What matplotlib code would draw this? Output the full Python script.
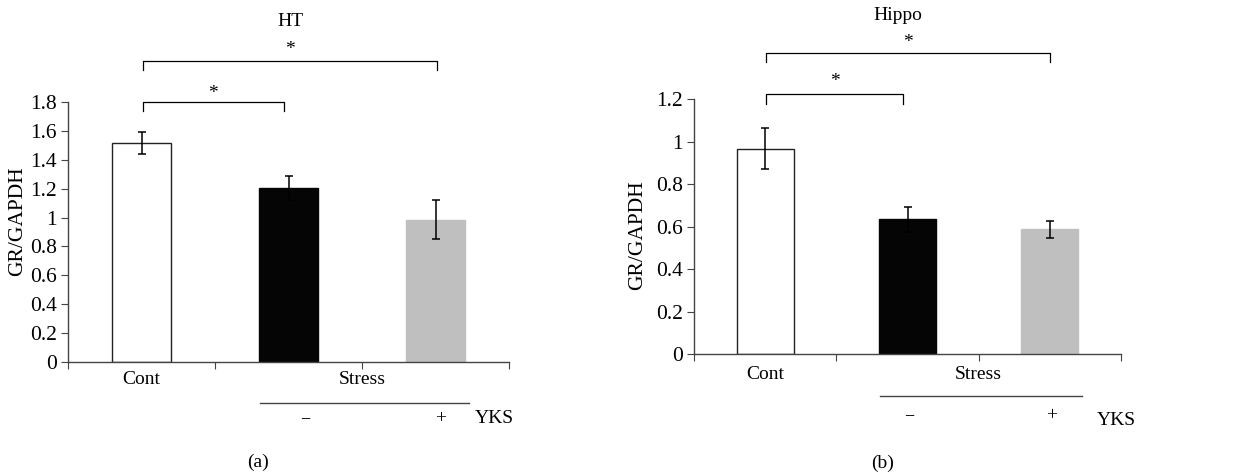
import numpy as np
import matplotlib.pyplot as plt
from matplotlib.ticker import FuncFormatter

plt.rcParams['font.family'] = ['Liberation Serif', 'DejaVu Serif']

# datos
grupos = ["Cont", "Stress -YKS", "Stress +YKS"]
ht_media = [1.515, 1.205, 0.985]
ht_error = [0.077, 0.083, 0.135]
hippo_media = [0.968, 0.635, 0.588]
hippo_error = [0.097, 0.060, 0.040]
colores = ["white", "#050505", "#bfbfbf"]
bordes = ["#222222", "#050505", "#bfbfbf"]

fig = plt.figure(figsize=(12.5, 4.75), dpi=100)
ax1 = fig.add_axes([0.0544, 0.2379, 0.3528, 0.5474])
ax2 = fig.add_axes([0.5552, 0.2541, 0.3416, 0.5368])

fs = 14
gris = "#444444"


def corchete(ax, x0, x1, y, pata, y_star):
    ax.plot([x0, x0, x1, x1], [pata, y, y, pata], color="black", lw=0.9, clip_on=False)
    ax.text((x0 + x1) / 2, y_star, "*", ha="center", va="center", fontsize=fs)


def panel(ax, medias, errores, ymax, titulo, letra, ytit, cfg):
    x = np.arange(len(grupos))
    ax.bar(x, medias, width=0.4, color=colores, edgecolor=bordes, linewidth=1.0)
    ax.errorbar(x, medias, yerr=errores, fmt="none", ecolor="black", elinewidth=1.1,
                capsize=3, capthick=1.1)
    ax.set_xlim(-0.5, 2.5)
    ax.set_ylim(0, ymax)
    ax.set_yticks(np.arange(0, ymax + 0.01, 0.2))
    ax.yaxis.set_major_formatter(FuncFormatter(lambda v, p: "%g" % round(v, 1)))
    ax.set_xticks([-0.5, 0.5, 1.5, 2.5])
    ax.set_xticklabels([])
    for s in ["top", "right"]:
        ax.spines[s].set_visible(False)
    for s in ["left", "bottom"]:
        ax.spines[s].set_color(gris)
        ax.spines[s].set_linewidth(1.0)
    ax.tick_params(axis="both", direction="out", length=5, color=gris, labelsize=fs + 1.5)
    ax.tick_params(axis="y", pad=3)

    tr = ax.get_xaxis_transform()
    ax.text(0, cfg["y_cont"], "Cont", transform=tr, ha="center", va="center", fontsize=fs)
    ax.text(1.5, cfg["y_cont"], "Stress", transform=tr, ha="center", va="center", fontsize=fs)
    ax.plot(cfg["linea"], [cfg["y_linea"]] * 2, transform=tr, color=gris, lw=1.0, clip_on=False)
    ax.text(cfg["x_menos"], cfg["y_signo"], "\u2212", transform=tr, ha="center", va="center", fontsize=fs - 1)
    ax.text(cfg["x_mas"], cfg["y_signo"], "+", transform=tr, ha="center", va="center", fontsize=fs)
    ax.text(cfg["x_yks"], cfg["y_yks"], "YKS", transform=tr, ha="center", va="center", fontsize=fs)
    ax.text(cfg["x_letra"], cfg["y_letra"], letra, transform=tr, ha="center", va="center", fontsize=fs)
    ax.text(cfg["x_tit"], ytit, titulo, transform=tr, ha="center", va="center", fontsize=fs)
    for b in cfg["corchetes"]:
        corchete(ax, *b)


panel(ax1, ht_media, ht_error, 1.8, "HT", "(a)", 1.308,
      dict(y_cont=-0.069, linea=[0.806, 2.228], y_linea=-0.157, x_menos=1.112, x_mas=2.035,
           y_signo=-0.219, x_yks=2.40, y_yks=-0.219, x_letra=0.79, y_letra=-0.385, x_tit=1.01,
           corchetes=[(0.008, 0.969, 1.8, 1.738, 1.856), (0.008, 2.008, 2.087, 2.022, 2.16)]))
panel(ax2, hippo_media, hippo_error, 1.2, "Hippo", "(b)", 1.328,
      dict(y_cont=-0.081, linea=[0.807, 2.224], y_linea=-0.164, x_menos=1.011, x_mas=2.014,
           y_signo=-0.242, x_yks=2.47, y_yks=-0.261, x_letra=0.828, y_letra=-0.426, x_tit=0.934,
           corchetes=[(0.004, 0.971, 1.224, 1.18, 1.283), (0.004, 2.002, 1.42, 1.374, 1.468)]))

fig.text(18 / 1250, 1 - 221 / 475, "GR/GAPDH", rotation=90, ha="center", va="center", fontsize=fs + 1.5)
fig.text(638 / 1250, 1 - 235 / 475, "GR/GAPDH", rotation=90, ha="center", va="center", fontsize=fs + 1.5)

fig.savefig("out.png", dpi=100)
